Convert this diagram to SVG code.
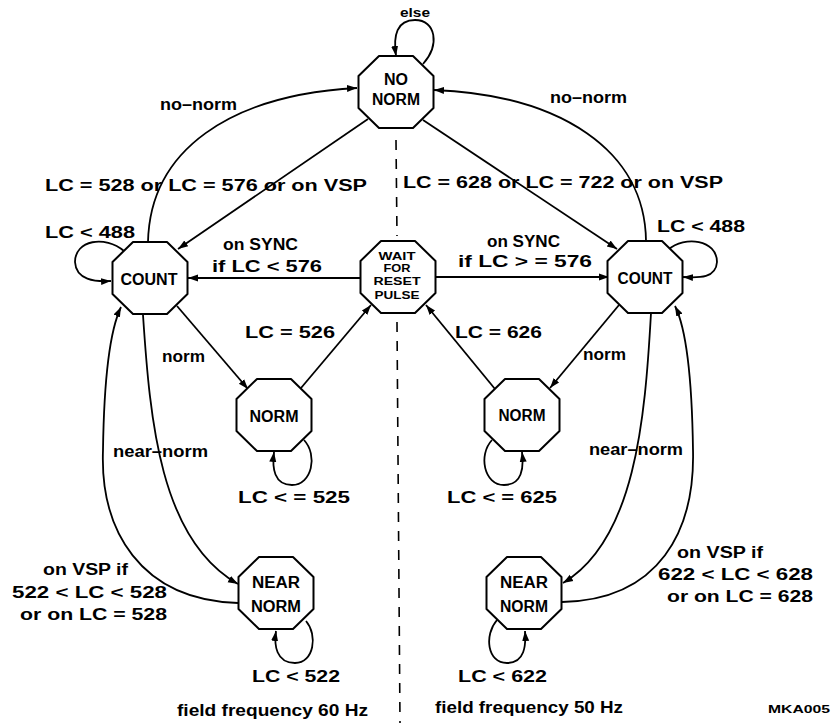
<svg xmlns="http://www.w3.org/2000/svg" xmlns:xlink="http://www.w3.org/1999/xlink" width="835" height="723" viewBox="0 0 835 723">
<style>
.oct{fill:#fff;stroke:#000;stroke-width:2;stroke-linejoin:round}
.ln{fill:none;stroke:#000;stroke-width:1.8}
.arr{marker-end:url(#ah)}
.dash{fill:none;stroke:#000;stroke-width:1.6;stroke-dasharray:10 9}
text{font-family:"Liberation Sans",Arial,Helvetica,sans-serif;font-weight:bold;fill:#000}
.lb{font-size:16px}
.nt{font-size:16px;text-anchor:middle}
.wt{font-size:10px;text-anchor:middle}
.sm{font-size:11px}
</style>
<defs>
<marker id="ah" viewBox="0 0 10 10" refX="10" refY="5" markerWidth="10" markerHeight="10" markerUnits="userSpaceOnUse" orient="auto">
<path d="M0,1.5 L10,5 L0,8.5 z" fill="#000"/>
</marker>
<polygon id="oct" points="-17,-36 17,-36 37.5,-16 37.5,16 17,36 -17,36 -37.5,16 -37.5,-16"/>
</defs>
<rect width="835" height="723" fill="#fff"/>

<g id="divider">
<path class="dash" d="M396 140 L397 236"/>
<path class="dash" d="M397 322 L400 723"/>
</g>

<g id="connectors">
<path class="ln arr" d="M423 64 C440 45 436 20 415 20 C397 20 393 35 396 56"/>
<path class="ln arr" d="M148 242 C150 150 230 95 357 88"/>
<path class="ln arr" d="M646 241 C645 150 560 95 434 90"/>
<path class="ln arr" d="M368 119 L178 249"/>
<path class="ln arr" d="M423 120 L617 249"/>
<path class="ln arr" d="M361 278 L188 278"/>
<path class="ln arr" d="M435 277 L609 277"/>
<path class="ln arr" d="M124 251 C105 235 75 240 75 262 C76 280 95 282 111 281"/>
<path class="ln arr" d="M668 250 C685 235 717 240 717 262 C716 278 700 278 683 277"/>
<path class="ln arr" d="M177 306 L248 389"/>
<path class="ln arr" d="M301 388 L371 305"/>
<path class="ln arr" d="M495 389 L426 305"/>
<path class="ln arr" d="M619 305 L550 388"/>
<path class="ln arr" d="M304 440 C318 455 312 485 292 485 C274 485 272 468 274 452"/>
<path class="ln arr" d="M492 440 C478 455 484 485 504 485 C522 485 524 468 522 452"/>
<path class="ln arr" d="M306 621 C318 635 314 663 295 663 C276 663 274 645 276 631"/>
<path class="ln arr" d="M497 620 C484 635 487 663 507 663 C525 663 526 645 525 631"/>
<path class="ln arr" d="M143 315 C150 420 160 540 238 584"/>
<path class="ln arr" d="M238 603 C140 600 100 530 103 450 C104 380 110 330 121 307"/>
<path class="ln arr" d="M651 313 C645 420 635 540 563 583"/>
<path class="ln arr" d="M562 602 C660 600 695 530 693 450 C692 380 687 330 675 306"/>
</g>

<g id="n-nonorm">
<use xlink:href="#oct" class="oct" transform="translate(396,92)"/>
<text class="nt" x="396" y="85" textLength="24" lengthAdjust="spacingAndGlyphs">NO</text>
<text class="nt" x="396" y="105" textLength="48" lengthAdjust="spacingAndGlyphs">NORM</text>
</g>
<g id="n-countL">
<use xlink:href="#oct" class="oct" transform="translate(150,278)"/>
<text class="nt" x="149" y="285" textLength="57" lengthAdjust="spacingAndGlyphs">COUNT</text>
</g>
<g id="n-wait">
<use xlink:href="#oct" class="oct" transform="translate(398,277)"/>
<text class="wt" x="397" y="260" textLength="37" lengthAdjust="spacingAndGlyphs">WAIT</text>
<text class="wt" x="397" y="272" textLength="27" lengthAdjust="spacingAndGlyphs">FOR</text>
<text class="wt" x="397" y="285" textLength="47" lengthAdjust="spacingAndGlyphs">RESET</text>
<text class="wt" x="397" y="299" textLength="45" lengthAdjust="spacingAndGlyphs">PULSE</text>
</g>
<g id="n-countR">
<use xlink:href="#oct" class="oct" transform="translate(645,277)"/>
<text class="nt" x="645" y="284" textLength="55" lengthAdjust="spacingAndGlyphs">COUNT</text>
</g>
<g id="n-normL">
<use xlink:href="#oct" class="oct" transform="translate(274,415)"/>
<text class="nt" x="274" y="422" textLength="49" lengthAdjust="spacingAndGlyphs">NORM</text>
</g>
<g id="n-normR">
<use xlink:href="#oct" class="oct" transform="translate(522,415)"/>
<text class="nt" x="522" y="421" textLength="47" lengthAdjust="spacingAndGlyphs">NORM</text>
</g>
<g id="n-nearL">
<use xlink:href="#oct" class="oct" transform="translate(276,593)"/>
<text class="nt" x="276" y="588" textLength="48" lengthAdjust="spacingAndGlyphs">NEAR</text>
<text class="nt" x="276" y="612" textLength="50" lengthAdjust="spacingAndGlyphs">NORM</text>
</g>
<g id="n-nearR">
<use xlink:href="#oct" class="oct" transform="translate(524,593)"/>
<text class="nt" x="524" y="588" textLength="48" lengthAdjust="spacingAndGlyphs">NEAR</text>
<text class="nt" x="524" y="612" textLength="48" lengthAdjust="spacingAndGlyphs">NORM</text>
</g>

<g id="labels">
<text class="lb" style="font-size:13px" x="400" y="17" textLength="30" lengthAdjust="spacingAndGlyphs">else</text>
<text class="lb" x="160" y="110" textLength="77" lengthAdjust="spacingAndGlyphs">no–norm</text>
<text class="lb" x="550" y="103" textLength="77" lengthAdjust="spacingAndGlyphs">no–norm</text>
<text class="lb" x="45" y="191" textLength="322" lengthAdjust="spacingAndGlyphs">LC = 528 or LC = 576 or on VSP</text>
<text class="lb" x="403" y="188" textLength="320" lengthAdjust="spacingAndGlyphs">LC = 628 or LC = 722 or on VSP</text>
<text class="lb" x="45" y="238" textLength="90" lengthAdjust="spacingAndGlyphs">LC &lt; 488</text>
<text class="lb" x="657" y="232" textLength="88" lengthAdjust="spacingAndGlyphs">LC &lt; 488</text>
<text class="lb" x="223" y="250" textLength="75" lengthAdjust="spacingAndGlyphs">on SYNC</text>
<text class="lb" x="212" y="272" textLength="110" lengthAdjust="spacingAndGlyphs">if LC &lt; 576</text>
<text class="lb" x="487" y="247" textLength="73" lengthAdjust="spacingAndGlyphs">on SYNC</text>
<text class="lb" x="458" y="267" textLength="134" lengthAdjust="spacingAndGlyphs">if LC &gt; = 576</text>
<text class="lb" x="245" y="338" textLength="90" lengthAdjust="spacingAndGlyphs">LC = 526</text>
<text class="lb" x="455" y="338" textLength="87" lengthAdjust="spacingAndGlyphs">LC = 626</text>
<text class="lb" x="162" y="362" textLength="43" lengthAdjust="spacingAndGlyphs">norm</text>
<text class="lb" x="583" y="360" textLength="43" lengthAdjust="spacingAndGlyphs">norm</text>
<text class="lb" x="113" y="457" textLength="95" lengthAdjust="spacingAndGlyphs">near–norm</text>
<text class="lb" x="589" y="455" textLength="94" lengthAdjust="spacingAndGlyphs">near–norm</text>
<text class="lb" x="238" y="503" textLength="112" lengthAdjust="spacingAndGlyphs">LC &lt; = 525</text>
<text class="lb" x="447" y="503" textLength="110" lengthAdjust="spacingAndGlyphs">LC &lt; = 625</text>
<text class="lb" x="43" y="575" textLength="85" lengthAdjust="spacingAndGlyphs">on VSP if</text>
<text class="lb" x="12" y="598" textLength="155" lengthAdjust="spacingAndGlyphs">522 &lt; LC &lt; 528</text>
<text class="lb" x="20" y="620" textLength="147" lengthAdjust="spacingAndGlyphs">or on LC = 528</text>
<text class="lb" x="677" y="558" textLength="86" lengthAdjust="spacingAndGlyphs">on VSP if</text>
<text class="lb" x="658" y="580" textLength="155" lengthAdjust="spacingAndGlyphs">622 &lt; LC &lt; 628</text>
<text class="lb" x="667" y="602" textLength="146" lengthAdjust="spacingAndGlyphs">or on LC = 628</text>
<text class="lb" x="252" y="682" textLength="88" lengthAdjust="spacingAndGlyphs">LC &lt; 522</text>
<text class="lb" x="458" y="682" textLength="89" lengthAdjust="spacingAndGlyphs">LC &lt; 622</text>
<text class="lb" x="177" y="716" textLength="191" lengthAdjust="spacingAndGlyphs">field frequency 60 Hz</text>
<text class="lb" x="435" y="713" textLength="188" lengthAdjust="spacingAndGlyphs">field frequency 50 Hz</text>
<text class="sm" x="768" y="713" textLength="62" lengthAdjust="spacingAndGlyphs">MKA005</text>
</g>
</svg>
